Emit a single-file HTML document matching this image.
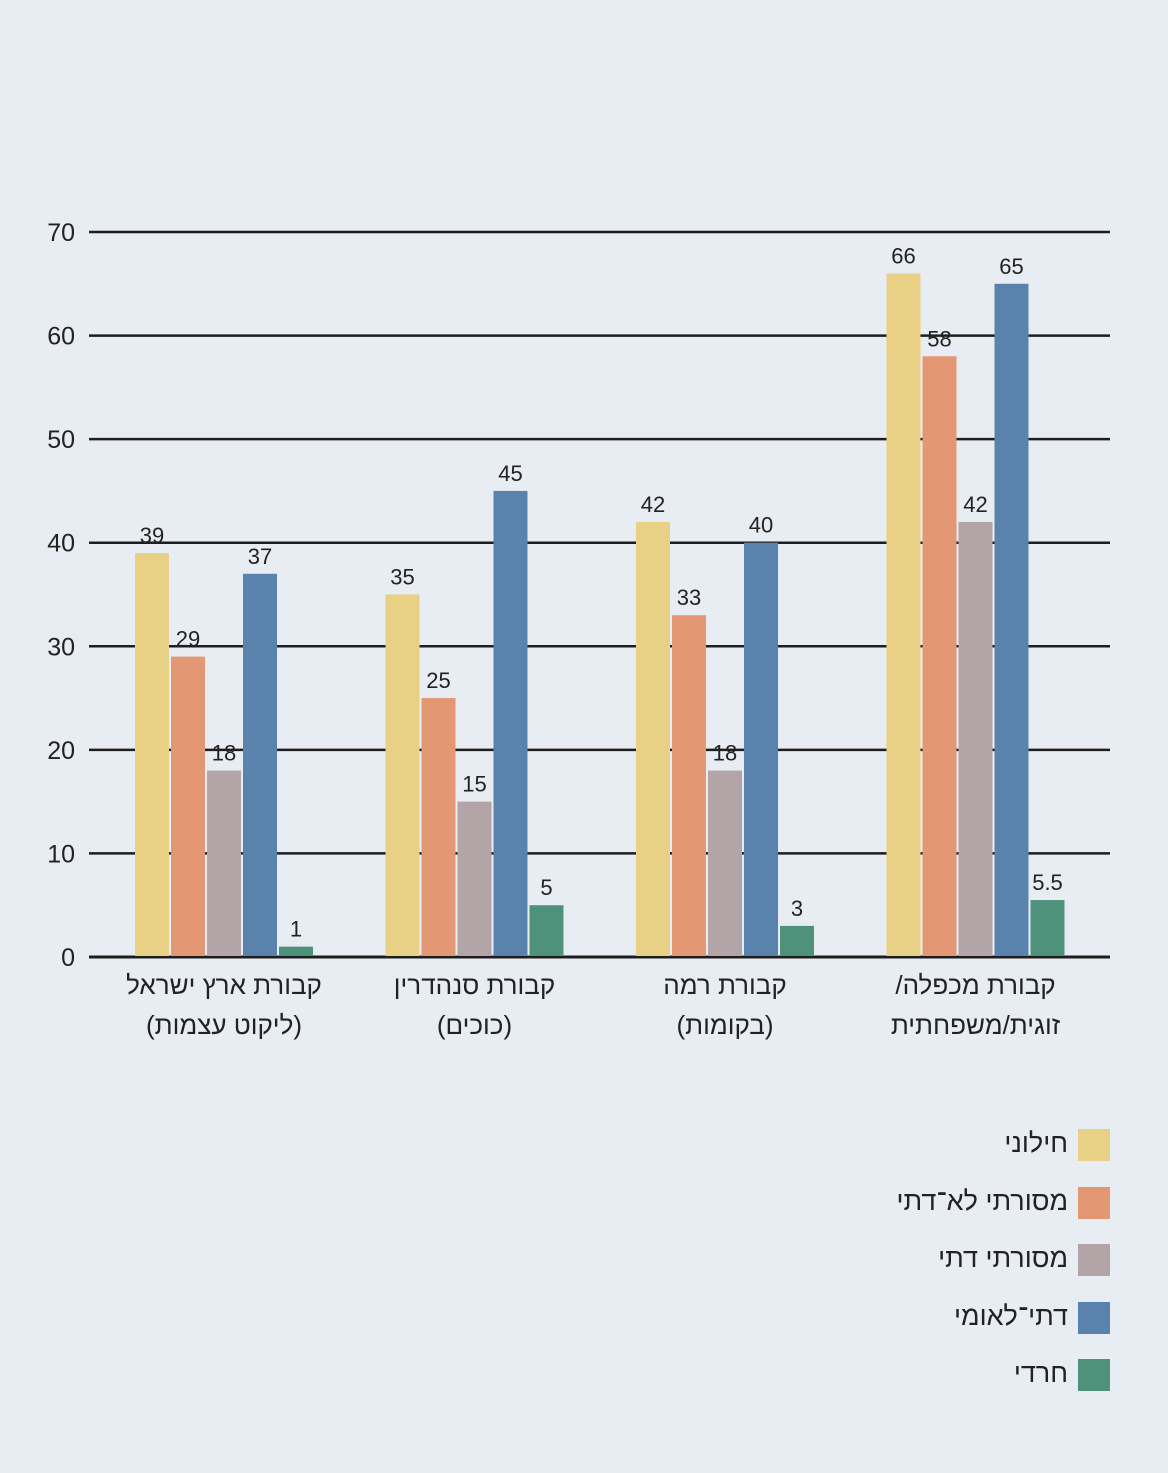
<!DOCTYPE html>
<html><head><meta charset="utf-8">
<style>
html,body{margin:0;padding:0;background:#e8ecf3;}
#wrap{position:relative;width:1168px;height:1473px;overflow:hidden;background:#e8ecf3;font-family:"Liberation Sans","DejaVu Sans",sans-serif;color:#222;}
svg{position:absolute;left:0;top:0;}
.cat{position:absolute;width:240px;text-align:center;font-size:26px;line-height:40px;direction:rtl;}
.leg{position:absolute;right:100px;font-size:27px;direction:rtl;white-space:nowrap;}
</style></head>
<body>
<div id="wrap">
<svg id="chart" width="1168" height="1473"></svg>
</div>
<script>
const categories = ["קבורת ארץ ישראל|(ליקוט עצמות)","קבורת סנהדרין|(כוכים)","קבורת רמה|(בקומות)","קבורת מכפלה/|זוגית/משפחתית"];
const seriesNames = ["חילוני","מסורתי לא־דתי","מסורתי דתי","דתי־לאומי","חרדי"];
const secular = [39,35,42,66];
const tradNonRel = [29,25,33,58];
const tradRel = [18,15,18,42];
const natRel = [37,45,40,65];
const haredi = [1,5,3,5.5];
const yTicks = [0,10,20,30,40,50,60,70];
const series = [secular,tradNonRel,tradRel,natRel,haredi];
const colors = ["#e8d184","#e39772","#b3a4a8","#5983ad","#4f927c"];
const NS="http://www.w3.org/2000/svg";
const svg=document.getElementById('chart');
const wrap=document.getElementById('wrap');
const y0=957, yTop=232, yMax=70;
function y(v){return y0-(v/yMax)*(y0-yTop);}
const groupStart=135, groupStep=250.5, barW=34, barStep=36;
function x(g,s){return groupStart+g*groupStep+s*barStep;}
function mk(tag,attrs){const e=document.createElementNS(NS,tag);for(const k in attrs)e.setAttribute(k,attrs[k]);svg.appendChild(e);return e;}
yTicks.forEach(t=>{
  const l=mk('line',{x1:89,x2:1110,y1:y(t),y2:y(t),stroke:'#1e1e1e','stroke-width':t===0?3:2.5});
  
  
  const tx=mk('text',{x:75,y:y(t)+9,'text-anchor':'end','font-size':25,fill:'#222'});
  tx.textContent=t;
  
  
});
series.forEach((arr,s)=>{
  arr.forEach((v,g)=>{
    const r=mk('rect',{x:x(g,s),y:y(v),width:barW,height:y0-y(v)-1,fill:colors[s]});
    
    
    const t=mk('text',{x:x(g,s)+barW/2,y:y(v)-10,'text-anchor':'middle','font-size':22,fill:'#222'});
    t.textContent=v;
    
    
  });
});
categories.forEach((c,g)=>{
  const d=document.createElement('div');
  d.className='cat';
  d.style.left=(x(g,2)+barW/2-120)+'px';
  d.style.top='965px';
  d.innerHTML=c.split('|').map(s=>'<div>'+s+'</div>').join('');
  
  
  wrap.appendChild(d);
});
seriesNames.forEach((n,s)=>{
  const top=1129+s*57.5;
  const b=document.createElement('div');
  b.style.cssText='position:absolute;left:1078px;width:32px;height:32px;top:'+top+'px;background:'+colors[s];
  
  
  wrap.appendChild(b);
  const t=document.createElement('div');
  t.className='leg';
  t.style.top=(top-1)+'px';
  t.textContent=n;
  
  
  wrap.appendChild(t);
});
</script>
</body></html>
